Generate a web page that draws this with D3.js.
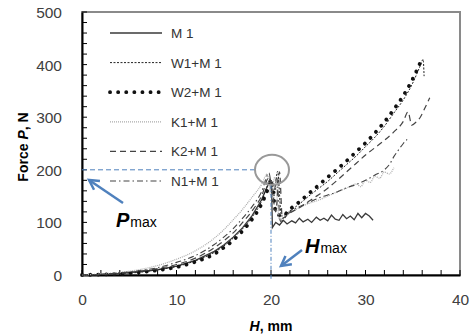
<!DOCTYPE html>
<html><head><meta charset="utf-8">
<script src="https://cdn.jsdelivr.net/npm/d3@7"></script>
<style>body{margin:0;background:#fff}svg{display:block;font-family:"Liberation Sans",Arial,sans-serif}</style>
</head><body><svg id="c" width="470" height="335"></svg>
<script>
const xTicks = [0,10,20,30,40];
const yTicks = [0,100,200,300,400,500];
const seriesNames = ["M 1","W1+M 1","W2+M 1","K1+M 1","K2+M 1","N1+M 1"];
const m1 = [[0,0],[2,1],[4,3],[6,6],[8,10],[10,17],[12,28],[14,45],[15,57],[16,72],[17,90],[18,113],[19,143],[19.6,168],[19.9,182],[20.05,176],[20.15,90],[20.5,100],[20.9,95],[21.3,104],[21.7,97],[22.2,103],[22.6,99],[23,108],[23.4,101],[23.9,106],[24.3,100],[24.8,110],[25.2,104],[25.6,108],[26,103],[26.4,114],[26.8,106],[27.2,104],[27.6,115],[28,107],[28.4,112],[28.8,105],[29.2,117],[29.6,109],[30,117],[30.4,112],[30.8,104]];
const w1 = [[0,0],[2,1],[4,3],[6,5],[8,10],[10,16],[12,27],[14,43],[15,55],[16,70],[17,88],[18,110],[19,140],[19.7,172],[20.1,180],[20.3,150],[20.7,197],[21.1,112],[22,122],[23,135],[24,150],[25,164],[26,178],[27,194],[28,210],[29,226],[30,244],[31,262],[32,283],[33,308],[34,333],[35,365],[35.8,398],[36.1,410],[36.2,378]];
const w2 = [[0,0],[2,1],[4,2],[6,5],[8,9],[10,15],[12,25],[14,40],[15,52],[16,66],[17,84],[18,106],[19,135],[19.6,160],[20,180],[20.2,168],[20.4,128],[20.7,115],[21.2,112],[22,125],[23,139],[24,155],[25,170],[26,186],[27,201],[28,217],[29,234],[30,251],[31,270],[32,291],[33,315],[34,341],[35,373],[35.9,408]];
const k1 = [[0,0],[2,2],[4,5],[6,10],[8,18],[10,30],[12,46],[14,70],[15,86],[16,105],[17,125],[18,148],[19,172],[19.6,192],[20,150],[20.4,186],[20.9,105],[22,118],[23,128],[24,136],[25,142],[26,150],[27,158],[28,165],[29,173],[29.5,168],[30,180],[30.5,176],[31,188],[31.5,184],[32,196],[32.5,192],[33,204]];
const k2 = [[0,0],[2,1],[4,3],[6,7],[8,12],[10,20],[12,32],[14,52],[15,65],[16,80],[17,100],[18,122],[19,150],[19.8,186],[20.2,150],[20.5,120],[20.9,196],[21.2,108],[22,118],[23,128],[24,140],[25,152],[26,165],[27,180],[28,196],[29,212],[30,228],[31,242],[32,256],[33,272],[34,292],[34.5,310],[34.9,285],[35.3,290],[35.8,300],[36.3,318],[36.8,337]];
const n1 = [[0,0],[2,1],[4,4],[6,8],[8,14],[10,24],[12,37],[14,58],[15,72],[16,88],[17,108],[18,130],[19,158],[19.8,194],[20.2,140],[20.6,186],[21,102],[22,120],[23,130],[24,138],[25,146],[26,152],[27,158],[28,166],[29,172],[30,180],[31,190],[32,200],[32.6,212],[33,225],[33.5,238],[34,250],[34.4,258]];
const pmax = 200, hmax = 20;

const svg = d3.select("#c");
const x = d3.scaleLinear([0,40],[82,460]);
const y = d3.scaleLinear([0,500],[275,12]);

const styles = [
  {stroke:"#3a3a3a", w:1.3, dash:null, cap:"butt"},
  {stroke:"#222", w:1, dash:"2,1.5", cap:"butt"},
  {stroke:"#111", w:3.8, dash:"0.1,8", cap:"round"},
  {stroke:"#aaa", w:1.2, dash:"1,1", cap:"butt"},
  {stroke:"#444", w:1.2, dash:"6,4", cap:"butt"},
  {stroke:"#444", w:1.1, dash:"6,3,1.5,3", cap:"butt"}
];
const data = [m1,w1,w2,k1,k2,n1];

// frame
svg.append("rect").attr("x",x(0)).attr("y",y(500)).attr("width",x(40)-x(0)).attr("height",y(0)-y(500))
  .attr("fill","none").attr("stroke","#8a8a8a").attr("stroke-width",2);

// minor ticks
const g = svg.append("g");
d3.range(0,501,20).forEach(v=>{
  g.append("line").attr("x1",x(0)).attr("x2",x(0)+5).attr("y1",y(v)).attr("y2",y(v)).attr("stroke","#000").attr("stroke-width",1);
});
d3.range(0,41,2).forEach(v=>{
  g.append("line").attr("x1",x(v)).attr("x2",x(v)).attr("y1",y(0)).attr("y2",y(0)-5).attr("stroke","#000").attr("stroke-width",1);
});

// axes via d3
const xAxis = svg.append("g").attr("transform",`translate(0,${y(0)})`)
  .call(d3.axisBottom(x).tickValues(xTicks).tickSize(0).tickPadding(19));
const yAxis = svg.append("g").attr("transform",`translate(${x(0)},0)`)
  .call(d3.axisLeft(y).tickValues(yTicks).tickSize(0).tickPadding(20));
[xAxis,yAxis].forEach(a=>{
  a.select(".domain").attr("stroke","#000").attr("stroke-width",2);
  a.selectAll("text").attr("font-size",15.5).attr("fill","#404040").attr("font-family",'"Liberation Sans",Arial,sans-serif');
});
yAxis.selectAll("text").attr("dy","0.36em");

// series
const smooth = d3.line().x(d=>x(d[0])).y(d=>y(d[1])).curve(d3.curveMonotoneX);
const straight = d3.line().x(d=>x(d[0])).y(d=>y(d[1]));
data.forEach((d,i)=>{
  const s = styles[i];
  svg.append("path").attr("d",(i===0?straight:smooth)(d)).attr("fill","none").attr("stroke",s.stroke)
    .attr("stroke-width",s.w).attr("stroke-dasharray",s.dash).attr("stroke-linecap",s.cap);
});

// legend
seriesNames.forEach((n,i)=>{
  const s = styles[i];
  const ly = 33 + i*29.6;
  svg.append("line").attr("x1",110).attr("x2",162).attr("y1",ly).attr("y2",ly)
    .attr("stroke",s.stroke).attr("stroke-width",s.w).attr("stroke-dasharray",s.dash).attr("stroke-linecap",s.cap);
  svg.append("text").attr("x",171).attr("y",ly+5).attr("font-size",13.5).attr("fill","#333").text(n);
});

// annotations
const blue = "#4f81bd";
svg.append("line").attr("x1",x(0)).attr("x2",x(hmax)-16).attr("y1",y(pmax)).attr("y2",y(pmax))
  .attr("stroke",blue).attr("stroke-width",1).attr("stroke-dasharray","5,3");
svg.append("line").attr("x1",x(hmax)).attr("x2",x(hmax)).attr("y1",y(pmax)+15).attr("y2",y(0)+5)
  .attr("stroke",blue).attr("stroke-width",1).attr("stroke-dasharray","4,2,1,2");
svg.append("ellipse").attr("cx",x(hmax)+1).attr("cy",y(pmax)).attr("rx",17).attr("ry",15)
  .attr("fill","none").attr("stroke","#999").attr("stroke-width",2);

function arrow(x1,y1,x2,y2){
  svg.append("line").attr("x1",x1).attr("y1",y1).attr("x2",x2).attr("y2",y2)
    .attr("stroke",blue).attr("stroke-width",2.5);
  const a = Math.atan2(y1-y2,x1-x2), L=11, sp=0.5;
  svg.append("polyline").attr("points",[
    [x2+L*Math.cos(a+sp),y2+L*Math.sin(a+sp)],[x2,y2],[x2+L*Math.cos(a-sp),y2+L*Math.sin(a-sp)]].map(p=>p.join(",")).join(" "))
    .attr("fill","none").attr("stroke",blue).attr("stroke-width",2.5).attr("stroke-linejoin","miter");
}
arrow(123,203,89,180);
arrow(302,250,281,266);

const pt = svg.append("text").attr("x",116).attr("y",227).attr("fill","#000");
pt.append("tspan").attr("font-size",20).attr("font-weight","bold").attr("font-style","italic").text("P");
pt.append("tspan").attr("font-size",14).attr("dx",1).text("max");
const ht = svg.append("text").attr("x",305).attr("y",253).attr("fill","#000");
ht.append("tspan").attr("font-size",20).attr("font-weight","bold").attr("font-style","italic").text("H");
ht.append("tspan").attr("font-size",14).attr("dx",1).text("max");

// axis titles
const xt = svg.append("text").attr("x",271).attr("y",331).attr("text-anchor","middle")
  .attr("font-size",14).attr("font-weight","bold").attr("fill","#000");
xt.append("tspan").attr("font-style","italic").text("H");
xt.append("tspan").text(", mm");
const yt = svg.append("text").attr("transform","translate(28,147) rotate(-90)").attr("text-anchor","middle")
  .attr("font-size",14).attr("font-weight","bold").attr("fill","#000");
yt.append("tspan").text("Force ");
yt.append("tspan").attr("font-style","italic").text("P");
yt.append("tspan").text(", N");
</script></body></html>
